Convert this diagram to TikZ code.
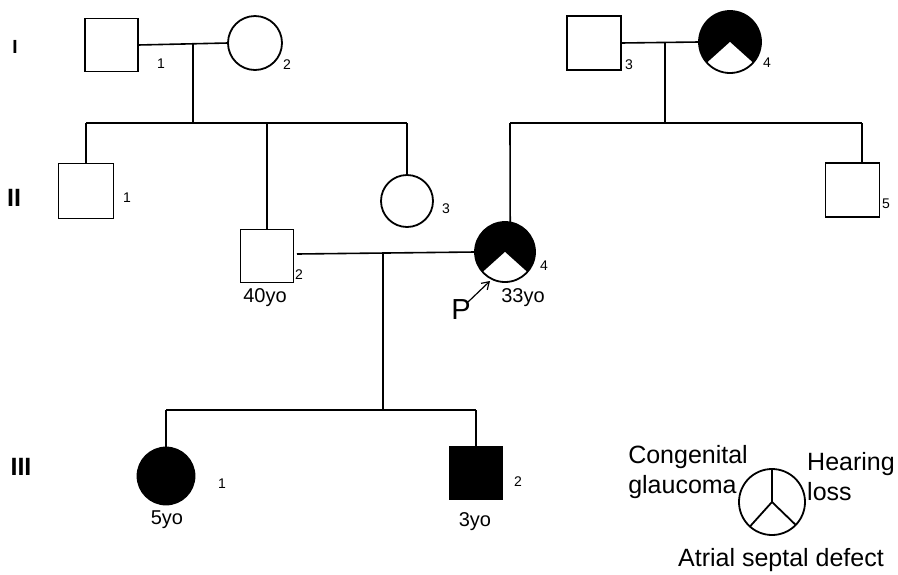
\documentclass[tikz,border=0pt]{standalone}
\usepackage{fontspec}
\setmainfont{Liberation Sans}
\usetikzlibrary{arrows.meta}
\begin{document}
\begin{tikzpicture}[x=1pt,y=1pt,
  ind/.style={draw, line width=1.8pt, inner sep=0pt, outer sep=0pt},
  male/.style={ind, rectangle, minimum size=#1},
  male/.default=53pt,
  female/.style={ind, circle, minimum size=#1},
  female/.default=54pt,
  aff/.style={fill=black},
  part/.style={fill=black, path picture={\fill[white] (path picture bounding box.center) -- +(222:45pt) arc[start angle=222, end angle=318, radius=45pt] -- cycle;}},
  rel/.style={line width=1.6pt},
  num/.style={font=\fontsize{14}{16}\selectfont, inner sep=0pt},
  age/.style={font=\fontsize{20}{22}\selectfont, inner sep=0pt},
  gen/.style={font=\bfseries\fontsize{#1}{#1}\selectfont, inner sep=0pt},
  leg/.style={font=\fontsize{25}{30}\selectfont, align=left, inner sep=0pt}
]
\useasboundingbox (0,0) rectangle (898,-574);

% generation labels
\node[gen=19] (gI) at (15,-46.5) {I};
\node[gen=25] (gII) at (14,-198) {II};
\node[gen=25] (gIII) at (21,-467) {III};

% generation I
\node[male] (I1) at (111.5,-45) {};
\node[female] (I2) at (255,-43) {};
\node[male=54pt] (I3) at (594,-43) {};
\node[female=62pt, part] (I4) at (730,-42) {};

% generation II
\node[male=55pt] (II1) at (86,-191) {};
\node[male] (II2) at (267,-256) {};
\node[female=52pt] (II3) at (407,-201) {};
\node[female=60pt, part] (II4) at (505,-252) {};
\node[male=54pt] (II5) at (852.5,-190) {};

% generation III
\node[female=57pt, aff] (III1) at (166,-476) {};
\node[male, aff] (III2) at (476,-473) {};

% individual numbers
\node[num] (nI1) at (161,-64) {1};
\node[num] (nI2) at (287,-65) {2};
\node[num] (nI3) at (629,-65) {3};
\node[num] (nI4) at (767,-63) {4};
\node[num] (nII1) at (127,-198) {1};
\node[num] (nII2) at (299,-275) {2};
\node[num] (nII3) at (446,-209) {3};
\node[num] (nII4) at (544,-266) {4};
\node[num] (nII5) at (886,-204) {5};
\node[num] (nIII1) at (222,-484) {1};
\node[num] (nIII2) at (518,-482) {2};

% ages
\node[age] (a1) at (265,-298) {40yo};
\node[age] (a2) at (523,-298) {33yo};
\node[age] (a3) at (167,-520) {5yo};
\node[age] (a4) at (475,-522) {3yo};

% proband
\node[font=\fontsize{29}{29}\selectfont, inner sep=0pt] (P) at (461,-310) {P};
\coordinate (pt) at (490,-281);
\draw[line width=1.2pt, -{Straight Barb[length=7pt,width=9pt]}] (468,-302) -- (pt);

% coordinates of connecting lines
\coordinate (m1) at (193,-44);
\coordinate (s1) at (193,-123);
\coordinate (m2) at (665,-43);
\coordinate (s2) at (665,-123);
\coordinate (c4) at (510,-123);
\coordinate (c5) at (862,-123);
\coordinate (m3) at (383,-254);
\coordinate (s3) at (383,-410);

% marriages and sibships
\draw[rel] (I1.east) -- (I2.west);
\draw[rel] (m1) -- (s1);
\draw[rel] (II1.north |- s1) -- (II3.north |- s1);
\draw[rel] (II1.north |- s1) -- (II1.north);
\draw[rel] (II2.north |- s1) -- (II2.north);
\draw[rel] (II3.north |- s1) -- (II3.north);

\draw[rel] (I3.east) -- (I4.west);
\draw[rel] (m2) -- (s2);
\draw[rel] (c4) -- (c5);
\draw[rel] (c4) -- (II4.80);
\draw[rel] (c5) -- (c5 |- II5.north);

\draw[rel] (297,-254) -- (II4.west);
\draw[rel] (m3) -- (s3);
\draw[rel] (III1.north |- s3) -- (III2.north |- s3);
\draw[rel] (III1.north |- s3) -- (III1.north);
\draw[rel] (III2.north |- s3) -- (III2.north);

% legend
\node[female=66pt] (L) at (772,-502) {};
\draw[rel, line width=1.8pt] (L.center) -- (L.north);
\draw[rel, line width=1.8pt] (L.center) -- (L.228);
\draw[rel, line width=1.8pt] (L.center) -- (L.316);
\node[leg, anchor=north east] (t1) at (748,-445) {Congenital\\glaucoma};
\node[leg, anchor=north west] (t2) at (807,-452) {Hearing\\loss};
\node[leg, anchor=north] (t3) at (781,-548) {Atrial septal defect};
\end{tikzpicture}
\end{document}
